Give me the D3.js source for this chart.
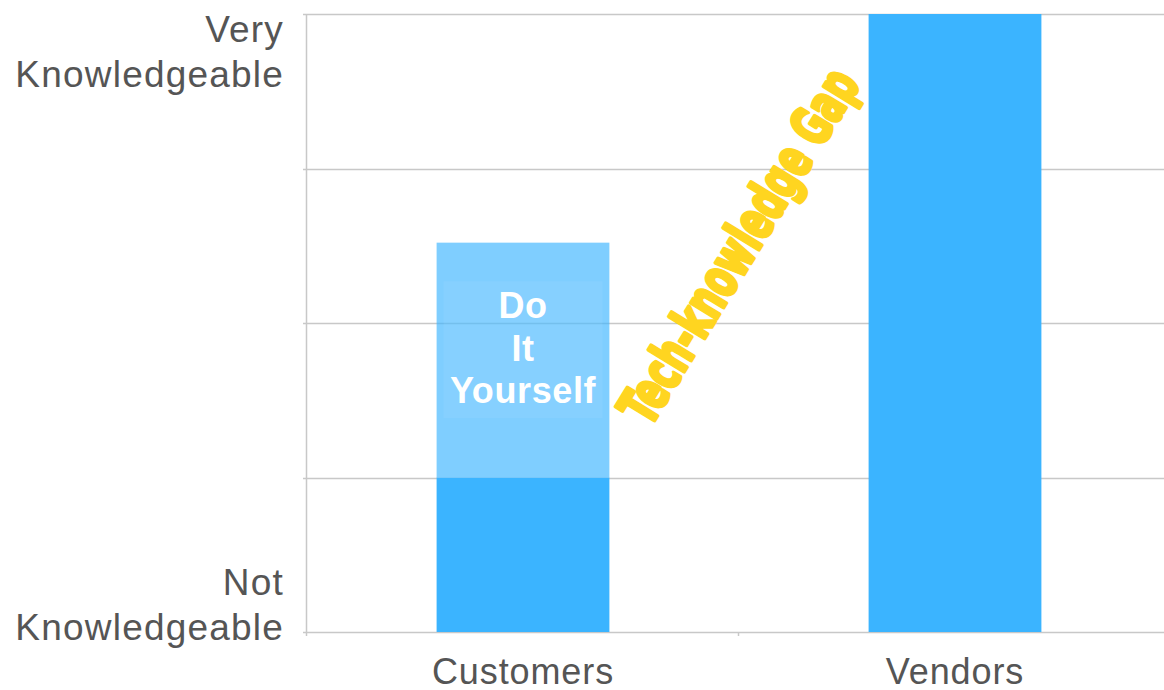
<!DOCTYPE html>
<html>
<head>
<meta charset="utf-8">
<script src="https://cdn.jsdelivr.net/npm/d3@7"></script>
<style>
  body { margin: 0; background: #fff; }
  svg { display: block; }
</style>
</head>
<body>
<div id="chart"></div>
<script>
// data
const categories = ["Customers", "Vendors"];
const baseValues = [1, 4];          // solid part of each bar
const diyValues = [1.52, 0];        // "Do It Yourself" extension on top
const yTickValues = [0, 1, 2, 3, 4];
const yTickLabels = { 0: ["Not", "Knowledgeable"], 4: ["Very", "Knowledgeable"] };
const diyLabel = ["Do", "It", "Yourself"];
const gapLabel = "Tech-knowledge Gap";

const width = 1164, height = 690;
const margin = { top: 14, right: -7, bottom: 58, left: 307 };

const svg = d3.select("#chart")
  .append("svg")
  .attr("width", width)
  .attr("height", height);

const x = d3.scaleBand()
  .domain(categories)
  .range([margin.left, width - margin.right])
  .paddingInner(0.6)
  .paddingOuter(0.3);

const y = d3.scaleLinear()
  .domain([0, 4])
  .range([height - margin.bottom, margin.top]);

const gridColor = "#c8c8c8";
const textColor = "#555";
const barColor = "#3bb4ff";
const font = "Liberation Sans, Arial, sans-serif";

// grid lines
svg.append("g")
  .selectAll("line")
  .data(yTickValues)
  .join("line")
  .attr("x1", margin.left - 4)
  .attr("x2", width)
  .attr("y1", d => Math.round(y(d)) + 0.5)
  .attr("y2", d => Math.round(y(d)) + 0.5)
  .attr("stroke", gridColor)
  .attr("stroke-width", 1.5);

// y axis line
svg.append("line")
  .attr("x1", margin.left - 0.5)
  .attr("x2", margin.left - 0.5)
  .attr("y1", y(4))
  .attr("y2", y(0))
  .attr("stroke", gridColor)
  .attr("stroke-width", 1.5);

// x axis ticks (at band boundaries)
const step = x.step();
const boundaries = [margin.left, x(categories[0]) - x.paddingOuter() * step + step];
svg.append("g")
  .selectAll("line")
  .data(boundaries)
  .join("line")
  .attr("x1", d => d - 0.5)
  .attr("x2", d => d - 0.5)
  .attr("y1", y(0))
  .attr("y2", y(0) + 4)
  .attr("stroke", gridColor)
  .attr("stroke-width", 1.5);

// solid bars
svg.append("g")
  .selectAll("rect")
  .data(categories)
  .join("rect")
  .attr("x", d => x(d))
  .attr("width", x.bandwidth())
  .attr("y", (d, i) => y(baseValues[i]))
  .attr("height", (d, i) => y(0) - y(baseValues[i]))
  .attr("fill", barColor);

// DIY extension (semi transparent)
svg.append("g")
  .selectAll("rect")
  .data(categories.filter((d, i) => diyValues[i] > 0))
  .join("rect")
  .attr("x", d => x(d))
  .attr("width", x.bandwidth())
  .attr("y", d => { const i = categories.indexOf(d); return y(baseValues[i] + diyValues[i]); })
  .attr("height", d => { const i = categories.indexOf(d); return y(baseValues[i]) - y(baseValues[i] + diyValues[i]); })
  .attr("fill", barColor)
  .attr("fill-opacity", 0.65);

// DIY text box
const cx = x(categories[0]) + x.bandwidth() / 2;
svg.append("rect")
  .attr("x", x(categories[0]) + 7)
  .attr("width", x.bandwidth() - 14)
  .attr("y", y(2.27))
  .attr("height", y(1.385) - y(2.27))
  .attr("fill", "#fff")
  .attr("fill-opacity", 0.06);

svg.append("text")
  .attr("text-anchor", "middle")
  .attr("font-family", font)
  .attr("font-weight", "bold")
  .attr("font-size", 36)
  .attr("letter-spacing", 0.6)
  .attr("fill", "#fff")
  .selectAll("tspan")
  .data(diyLabel)
  .join("tspan")
  .attr("x", cx)
  .attr("y", (d, i) => 318 + i * 42.5)
  .text(d => d);

// y tick labels
svg.append("g")
  .selectAll("text")
  .data(Object.keys(yTickLabels).map(Number))
  .join("text")
  .attr("text-anchor", "end")
  .attr("font-family", font)
  .attr("font-size", 37)
  .attr("letter-spacing", 1.2)
  .attr("fill", textColor)
  .each(function (v) {
    const lines = yTickLabels[v];
    const top = v === 4 ? y(v) + 28 : y(v) - 37;
    d3.select(this).selectAll("tspan")
      .data(lines)
      .join("tspan")
      .attr("x", 284)
      .attr("y", (d, i) => top + i * 45)
      .text(d => d);
  });

// x labels
svg.append("g")
  .selectAll("text")
  .data(categories)
  .join("text")
  .attr("x", d => x(d) + x.bandwidth() / 2)
  .attr("y", y(0) + 52)
  .attr("text-anchor", "middle")
  .attr("font-family", font)
  .attr("font-size", 36)
  .attr("letter-spacing", 0.9)
  .attr("fill", textColor)
  .text(d => d);

// gap annotation
svg.append("text")
  .attr("transform", "translate(739,246) rotate(-58.5)")
  .attr("text-anchor", "middle")
  .attr("dominant-baseline", "central")
  .attr("font-family", "Liberation Sans Narrow, DejaVu Sans Condensed, sans-serif")
  .attr("font-weight", "bold")
  .attr("font-size", 55)
  .attr("fill", "#ffd520")
  .attr("stroke", "#ffd520")
  .attr("stroke-width", 4)
  .attr("stroke-linejoin", "round")
  .attr("textLength", 404)
  .attr("lengthAdjust", "spacingAndGlyphs")
  .text(gapLabel);
</script>
</body>
</html>
